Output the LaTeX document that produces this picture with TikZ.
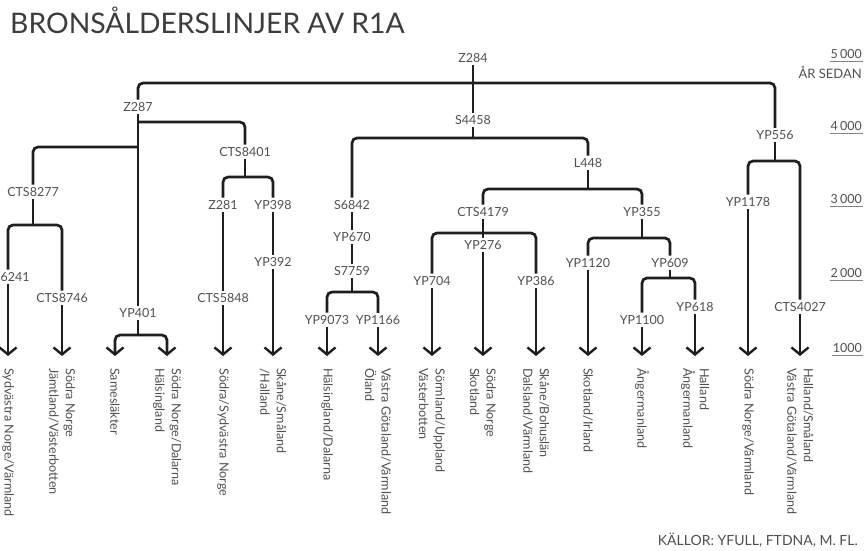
\documentclass[tikz,border=0pt]{standalone}
\usepackage{fontspec}
\setmainfont{Lato}
\usetikzlibrary{arrows.meta}
\definecolor{ink}{HTML}{1E1E1E}
\definecolor{txt}{HTML}{505050}
\definecolor{ttl}{HTML}{3C3C3C}
\tikzset{
  edge/.style={draw=ink, line width=2.7pt, rounded corners=5pt},
  arr/.style={edge, -{Straight Barb[length=7pt,width=17pt,line width=2.4pt]}},
  lab/.style={text=txt, font=\fontsize{12.5}{14}\selectfont, inner sep=2.5pt},
  leaf/.style={text=txt, font=\fontsize{12.6}{16.5}\selectfont, rotate=-90, anchor=west, align=left, inner sep=0pt},
  scl/.style={text=txt, font=\fontsize{12.5}{14}\selectfont, inner sep=1pt, anchor=east},
  uline/.style={draw=txt!70, line width=0.8pt}
}
\begin{document}
\begin{tikzpicture}[x=1pt,y=-1pt]
\fill[white] (0,0) rectangle (868,550);
\useasboundingbox (0,0) rectangle (868,550);

\node[anchor=base west, inner sep=0pt, text=ttl, font=\fontsize{28.3}{30}\selectfont] (title) at (10,33) {BRONSÅLDERSLINJER AV R1A};
\node[anchor=base east, inner sep=0pt, text=txt, font=\fontsize{14}{16}\selectfont] (src) at (858,545) {KÄLLOR: YFULL, FTDNA, M. FL.};

% scale
\node[scl] (s5) at (863,54) {5\,000};
\node[scl, font=\fontsize{13}{15}\selectfont] (sr) at (863,72) {ÅR SEDAN};
\node[scl] (s4) at (863,126) {4\,000};
\node[scl] (s3) at (863,199) {3\,000};
\node[scl] (s2) at (863,273) {2\,000};
\node[scl] (s1) at (863,348) {1000};
\foreach \s in {s5,s4,s3,s2,s1}{
  \draw[uline] ([yshift=-1.5pt]\s.south west) -- ([yshift=-1.5pt]\s.south east);
}

% labels
\node[lab] (Z284) at (473,58) {Z284};
\node[lab] (S4458) at (473,120) {S4458};
\node[lab] (Z287) at (138,107) {Z287};
\node[lab] (CTS8401) at (245,152) {CTS8401};
\node[lab] (Z281) at (223,205) {Z281};
\node[lab] (YP398) at (273,205) {YP398};
\node[lab] (CTS5848) at (223,298) {CTS5848};
\node[lab] (YP392) at (273,262) {YP392};
\node[lab] (CTS8277) at (33,192) {CTS8277};
\node[lab, anchor=west] (n6241) at (-2,277) {6241};
\node[lab] (CTS8746) at (62,298) {CTS8746};
\node[lab] (YP401) at (138,313) {YP401};
\node[lab] (S6842) at (352,205) {S6842};
\node[lab] (YP670) at (352,237) {YP670};
\node[lab] (S7759) at (352,271) {S7759};
\node[lab] (YP9073) at (327,320) {YP9073};
\node[lab] (YP1166) at (378,320) {YP1166};
\node[lab] (L448) at (588,163) {L448};
\node[lab] (CTS4179) at (483,212) {CTS4179};
\node[lab] (YP276) at (483,245) {YP276};
\node[lab] (YP704) at (432,281) {YP704};
\node[lab] (YP386) at (536,281) {YP386};
\node[lab] (YP355) at (642,212) {YP355};
\node[lab] (YP1120) at (588,263) {YP1120};
\node[lab] (YP609) at (670,263) {YP609};
\node[lab] (YP1100) at (642,320) {YP1100};
\node[lab] (YP618) at (695,307) {YP618};
\node[lab] (YP556) at (775,135) {YP556};
\node[lab] (YP1178) at (748,202) {YP1178};
\node[lab] (CTS4027) at (800,307) {CTS4027};

% junctions
\coordinate (j0) at (473,83);
\coordinate (jz1) at (138,122);
\coordinate (jz2) at (138,147);
\coordinate (jc1) at (245,177);
\coordinate (jc2) at (33,225);
\coordinate (jy1) at (138,335);
\coordinate (js) at (473,138);
\coordinate (js2) at (352,292);
\coordinate (jl) at (588,189);
\coordinate (jc4) at (483,233);
\coordinate (jy3) at (642,238);
\coordinate (jy6) at (670,278);
\coordinate (jy5) at (775,161);

% arrow ends
\foreach \n/\x in {1/8,2/62,3/115,4/167,5/223,6/273,7/327,8/378,9/432,10/483,11/536,12/588,13/642,14/695,15/748,16/800}{
  \coordinate (e\n) at (\x,356);
}

% edges
\draw[edge] (Z284.south) -- (S4458.north);
\draw[edge] (Z287.north) |- (j0) -| (YP556.north);
\draw[edge] (Z287.south) -- (YP401.north);
\draw[edge] (jz1) -| (CTS8401.north);
\draw[edge] (jz2) -| (CTS8277.north);
\draw[edge] (CTS8401.south) -- (jc1);
\draw[edge] (Z281.north) |- (jc1) -| (YP398.north);
\draw[edge] (Z281.south) -- (CTS5848.north);
\draw[arr] (CTS5848.south) -- (e5);
\draw[edge] (YP398.south) -- (YP392.north);
\draw[arr] (YP392.south) -- (e6);
\draw[edge] (CTS8277.south) -- (jc2);
\draw[edge] (e1 |- n6241.north) |- (jc2) -| (CTS8746.north);
\draw[arr] (e1 |- n6241.south) -- (e1);
\draw[arr] (CTS8746.south) -- (e2);
\draw[edge] (YP401.south) -- (jy1);
\draw[arr] (jy1) -| (e3);
\draw[arr] (jy1) -| (e4);

\draw[edge] (S4458.south) -- (js);
\draw[edge] (S6842.north) |- (js) -| (L448.north);
\draw[edge] (S6842.south) -- (YP670.north);
\draw[edge] (YP670.south) -- (S7759.north);
\draw[edge] (S7759.south) -- (js2);
\draw[edge] (YP9073.north) |- (js2) -| (YP1166.north);
\draw[arr] (YP9073.south) -- (e7);
\draw[arr] (YP1166.south) -- (e8);
\draw[edge] (L448.south) -- (jl);
\draw[edge] (CTS4179.north) |- (jl) -| (YP355.north);
\draw[edge] (CTS4179.south) -- (YP276.north);
\draw[edge] (YP704.north) |- (jc4) -| (YP386.north);
\draw[arr] (YP704.south) -- (e9);
\draw[arr] (YP276.south) -- (e10);
\draw[arr] (YP386.south) -- (e11);
\draw[edge] (YP355.south) -- (jy3);
\draw[edge] (YP1120.north) |- (jy3) -| (YP609.north);
\draw[arr] (YP1120.south) -- (e12);
\draw[edge] (YP609.south) -- (jy6);
\draw[edge] (YP1100.north) |- (jy6) -| (YP618.north);
\draw[arr] (YP1100.south) -- (e13);
\draw[arr] (YP618.south) -- (e14);
\draw[edge] (YP556.south) -- (jy5);
\draw[edge] (YP1178.north) |- (jy5) -| (CTS4027.north);
\draw[arr] (YP1178.south) -- (e15);
\draw[arr] (CTS4027.south) -- (e16);

% leaves
\node[leaf] (l1) at (8,368) {Sydvästra Norge/Värmland};
\node[leaf] (l2) at (62,368) {Södra Norge\\Jämtland/Västerbotten};
\node[leaf] (l3) at (115,368) {Samesläkter};
\node[leaf] (l4) at (167,368) {Södra Norge/Dalarna\\Hälsingland};
\node[leaf] (l5) at (223,368) {Södra/Sydvästra Norge};
\node[leaf] (l6) at (273,368) {Skåne/Småland\\/Halland};
\node[leaf] (l7) at (327,368) {Hälsingland/Dalarna};
\node[leaf] (l8) at (378,368) {Västra Götaland/Värmland\\Öland};
\node[leaf] (l9) at (432,368) {Sörmland/Uppland\\Västerbotten};
\node[leaf] (l10) at (483,368) {Södra Norge\\Skotland};
\node[leaf] (l11) at (536,368) {Skåne/Bohuslän\\Dalsland/Värmland};
\node[leaf] (l12) at (588,368) {Skotland/Irland};
\node[leaf] (l13) at (642,368) {Ångermanland};
\node[leaf] (l14) at (695,368) {Halland\\Ångermanland};
\node[leaf] (l15) at (748,368) {Södra Norge/Värmland};
\node[leaf] (l16) at (800,368) {Halland/Småland\\Västra Götaland/Värmland};
\end{tikzpicture}
\end{document}
